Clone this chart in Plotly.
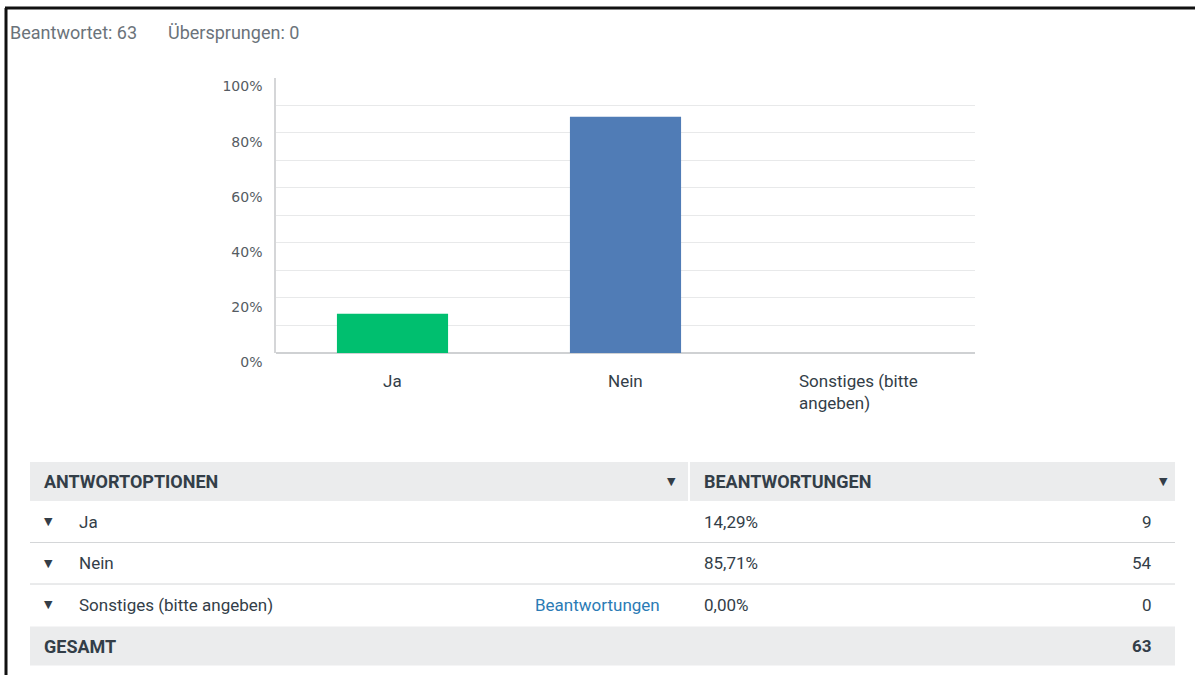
import plotly.graph_objects as go

# ---- data ----
categories = ["Ja", "Nein", "Sonstiges (bitte angeben)"]
category_labels = ["Ja", "Nein", "Sonstiges (bitte<br>angeben)"]
percentages = [14.29, 85.71, 0.00]
counts = [9, 54, 0]
total = 63
answered = 63
skipped = 0
bar_colors = ["#00BF6F", "#507CB6", "#A8A8A8"]
y_tick_vals = [0, 20, 40, 60, 80, 100]
y_tick_text = ["0%", "20%", "40%", "60%", "80%", "100%"]

# layout reference frame (pixel positions below are read in a 1195x675 frame)
W, H = 1195, 675
FIG_H = 692  # rendered height (the capture compresses vertically by 675/692)
FONT = "Roboto, Liberation Sans, sans-serif"
TXT = "#333e48"


def px(x):
    return x / W


def py(y):
    return 1 - y / H


def fmt_pct(v):
    return f"{v:.2f}".replace(".", ",") + "%"


fig = go.Figure()
fig.add_trace(go.Bar(
    x=categories, y=percentages,
    marker=dict(color=bar_colors, line=dict(width=0)),
    hoverinfo="x+y",
))

shapes = []
annotations = []

# frame
shapes.append(dict(type="line", xref="paper", yref="paper", x0=px(5), x1=1, y0=py(8), y1=py(8),
                   line=dict(color="#111111", width=3)))
shapes.append(dict(type="line", xref="paper", yref="paper", x0=px(6), x1=px(6), y0=py(8), y1=0,
                   line=dict(color="#111111", width=3)))

# header text
annotations.append(dict(text=f"Beantwortet: {answered}", x=px(8), y=py(33), xref="paper", yref="paper",
                        xanchor="left", yanchor="middle", showarrow=False,
                        font=dict(family=FONT, size=18, color="#6b737a")))
annotations.append(dict(text=f"Übersprungen: {skipped}", x=px(166), y=py(33), xref="paper", yref="paper",
                        xanchor="left", yanchor="middle", showarrow=False,
                        font=dict(family=FONT, size=18, color="#6b737a")))

# x category labels (left-aligned block under each bar)
for cat, lab in zip(categories, category_labels):
    annotations.append(dict(text=lab, x=cat, xref="x", y=py(369), yref="paper",
                            xanchor="center", yanchor="top", align="left", showarrow=False,
                            font=dict(family=FONT, size=17, color=TXT)))

# ---- table ----
L, R, MID = 30, 1175, 688
hdr_top, hdr_bot = 462, 501
row_h = 41.5
shapes.append(dict(type="rect", xref="paper", yref="paper", x0=px(L), x1=px(MID), y0=py(hdr_bot), y1=py(hdr_top),
                   fillcolor="#ebeced", line=dict(width=0), layer="below"))
shapes.append(dict(type="rect", xref="paper", yref="paper", x0=px(MID + 2), x1=px(R), y0=py(hdr_bot), y1=py(hdr_top),
                   fillcolor="#ebeced", line=dict(width=0), layer="below"))
annotations.append(dict(text="<b>ANTWORTOPTIONEN</b>", x=px(42), y=py(481), xref="paper", yref="paper",
                        xanchor="left", yanchor="middle", showarrow=False,
                        font=dict(family=FONT, size=18, color=TXT)))
annotations.append(dict(text="<b>BEANTWORTUNGEN</b>", x=px(702), y=py(481), xref="paper", yref="paper",
                        xanchor="left", yanchor="middle", showarrow=False,
                        font=dict(family=FONT, size=18, color=TXT)))
for xx in (671, 1163):
    annotations.append(dict(text="▼", x=px(xx), y=py(481), xref="paper", yref="paper",
                            xanchor="center", yanchor="middle", showarrow=False,
                            font=dict(family="DejaVu Sans", size=11, color=TXT)))

row_tops = [hdr_bot + i * row_h for i in range(len(categories))]
for i, (cat, p, c) in enumerate(zip(categories, percentages, counts)):
    top = row_tops[i]
    cy = top + row_h / 2
    if i > 0:
        shapes.append(dict(type="line", xref="paper", yref="paper", x0=px(L), x1=px(R), y0=py(top), y1=py(top),
                           line=dict(color="#d4d6d8", width=1)))
    annotations.append(dict(text="▼", x=px(48), y=py(cy), xref="paper", yref="paper",
                            xanchor="center", yanchor="middle", showarrow=False,
                            font=dict(family="DejaVu Sans", size=11, color=TXT)))
    annotations.append(dict(text=cat, x=px(77), y=py(cy), xref="paper", yref="paper",
                            xanchor="left", yanchor="middle", showarrow=False,
                            font=dict(family=FONT, size=17, color=TXT)))
    annotations.append(dict(text=fmt_pct(p), x=px(702), y=py(cy), xref="paper", yref="paper",
                            xanchor="left", yanchor="middle", showarrow=False,
                            font=dict(family=FONT, size=17, color=TXT)))
    annotations.append(dict(text=str(c), x=px(1154), y=py(cy), xref="paper", yref="paper",
                            xanchor="right", yanchor="middle", showarrow=False,
                            font=dict(family=FONT, size=17, color=TXT)))
    if i == len(categories) - 1:
        annotations.append(dict(text="Beantwortungen", x=px(662), y=py(cy), xref="paper", yref="paper",
                                xanchor="right", yanchor="middle", showarrow=False,
                                font=dict(family=FONT, size=17, color="#2b7bb5")))

tot_top = row_tops[-1] + row_h + 1
tot_bot = tot_top + 39
shapes.append(dict(type="rect", xref="paper", yref="paper", x0=px(L), x1=px(R), y0=py(tot_bot), y1=py(tot_top),
                   fillcolor="#ebeced", line=dict(width=0), layer="below"))
annotations.append(dict(text="<b>GESAMT</b>", x=px(42), y=py((tot_top + tot_bot) / 2), xref="paper", yref="paper",
                        xanchor="left", yanchor="middle", showarrow=False,
                        font=dict(family=FONT, size=18, color=TXT)))
annotations.append(dict(text=f"<b>{total}</b>", x=px(1154), y=py((tot_top + tot_bot) / 2), xref="paper", yref="paper",
                        xanchor="right", yanchor="middle", showarrow=False,
                        font=dict(family=FONT, size=17, color=TXT)))

fig.update_layout(
    width=W, height=FIG_H,
    margin=dict(l=0, r=0, t=0, b=0),
    paper_bgcolor="white", plot_bgcolor="white",
    showlegend=False,
    bargap=0.523,
    shapes=shapes,
    annotations=annotations,
    xaxis=dict(domain=[px(276), px(975)], showticklabels=False, ticks="",
               showgrid=False, zeroline=False, showline=False, fixedrange=True),
    yaxis=dict(domain=[py(353), py(77.5)], range=[0, 100],
               tickvals=y_tick_vals, ticktext=y_tick_text,
               ticklabelshift=9, ticklabelstandoff=9,
               tickfont=dict(family="DejaVu Sans, Liberation Sans, sans-serif", size=14, color="#555c63"),
               showgrid=True, gridcolor="#e8e9ea", gridwidth=1,
               minor=dict(dtick=10, showgrid=True, gridcolor="#e8e9ea", gridwidth=1),
               showline=True, linecolor="#d5d6d8", linewidth=1.5,
               zeroline=True, zerolinecolor="#cfd1d3", zerolinewidth=1.5,
               fixedrange=True),
)

post = ("document.documentElement.style.margin='0';document.body.style.margin='0';"
        "document.body.style.overflow='hidden';"
        "var d=document.getElementById('{plot_id}');"
        "d.style.position='fixed';d.style.left='0px';d.style.top='0px';")

fig.write_html("out.html", config={"displayModeBar": False}, post_script=post)
